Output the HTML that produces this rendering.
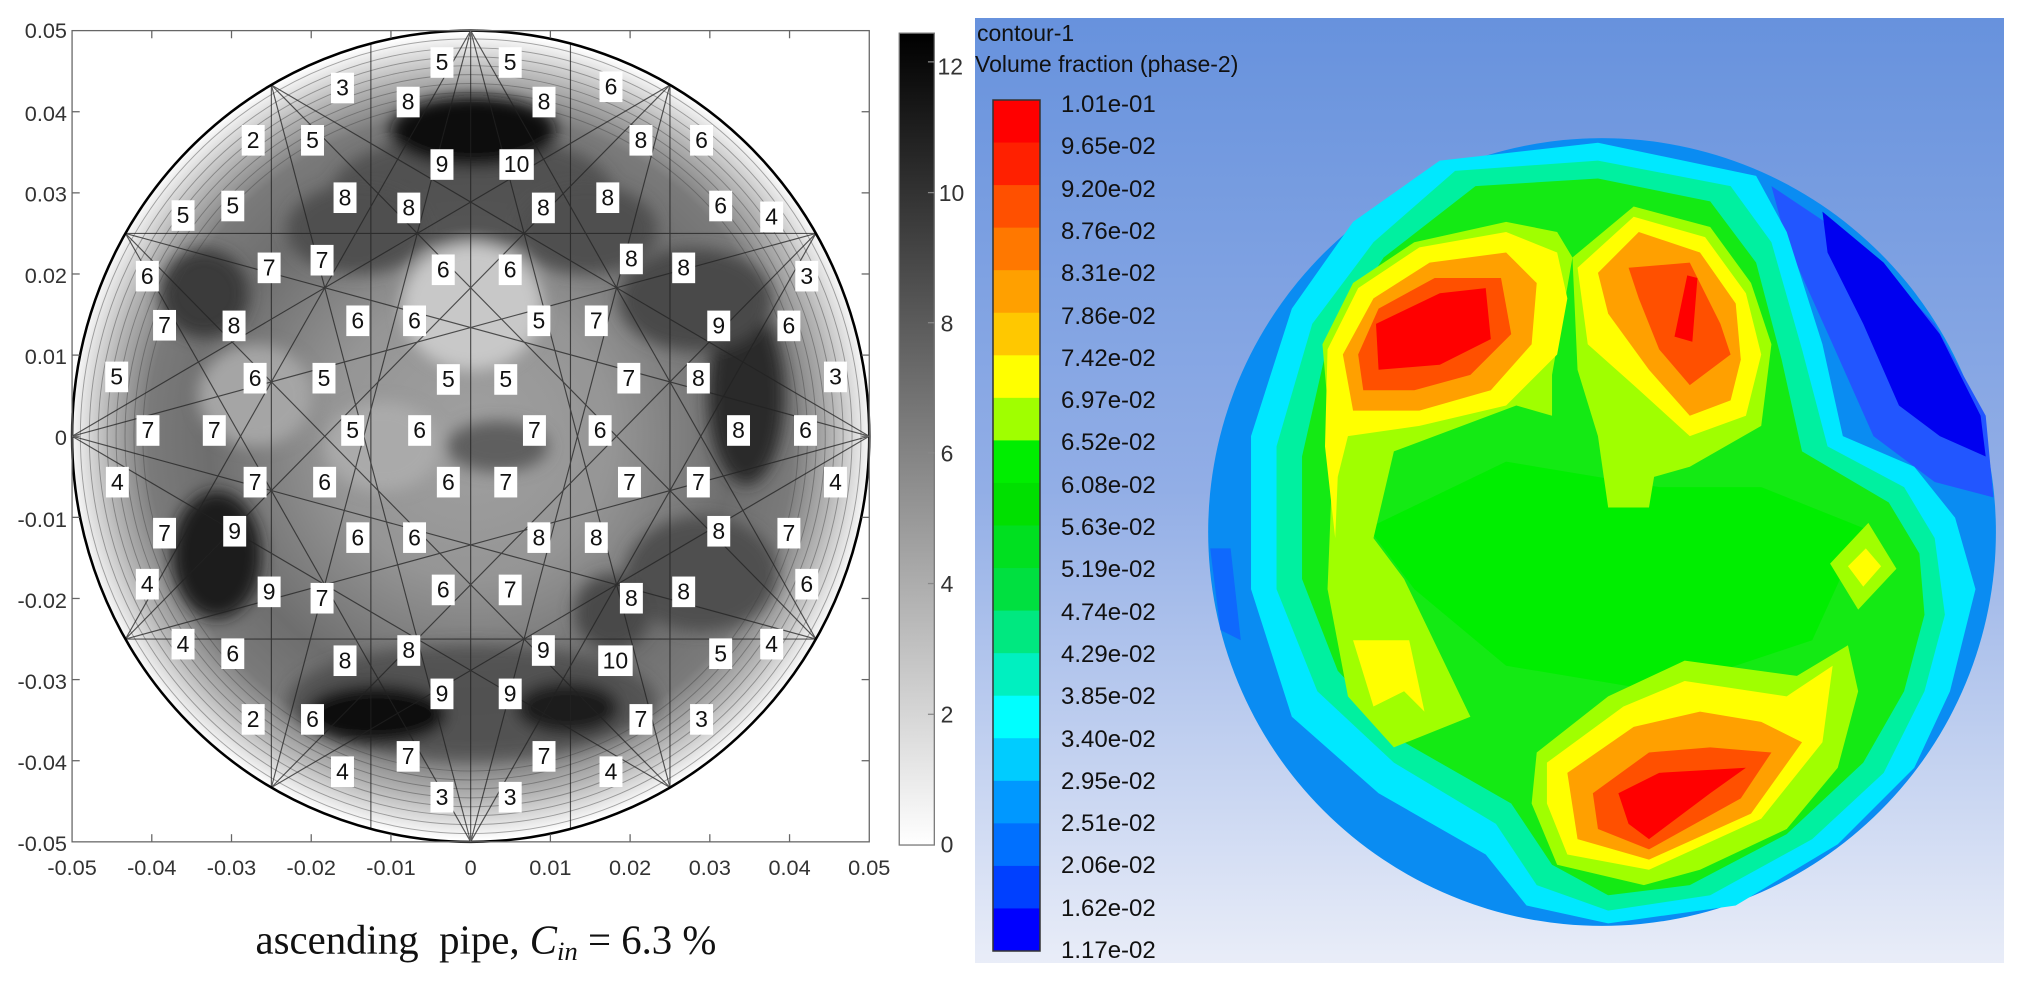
<!DOCTYPE html>
<html><head><meta charset="utf-8">
<style>
html,body{margin:0;padding:0;background:#fff;}
svg{display:block;}
text{font-family:"Liberation Sans",Arial,sans-serif;}
</style></head>
<body>
<svg id="s" width="2030" height="993" viewBox="0 0 2030 993" xmlns="http://www.w3.org/2000/svg">
<defs>
  <radialGradient id="rg" cx="738" cy="684" r="632" gradientUnits="userSpaceOnUse">
    <stop offset="0" stop-color="#a0a0a0"/>
    <stop offset="0.35" stop-color="#959595"/>
    <stop offset="0.65" stop-color="#6e6e6e"/>
    <stop offset="0.8" stop-color="#7a7a7a"/>
    <stop offset="0.9" stop-color="#b5b5b5"/>
    <stop offset="0.97" stop-color="#e8e8e8"/>
    <stop offset="1" stop-color="#ffffff"/>
  </radialGradient>
  <clipPath id="cl"><ellipse cx="738" cy="684" rx="625" ry="636"/></clipPath>
  <filter id="bl" x="-50%" y="-50%" width="200%" height="200%"><feGaussianBlur stdDeviation="12"/></filter>
  <linearGradient id="cb" x1="0" y1="0" x2="0" y2="1">
    <stop offset="0" stop-color="#000"/>
    <stop offset="1" stop-color="#fff"/>
  </linearGradient>
  <linearGradient id="bg" x1="0" y1="0" x2="0" y2="1">
    <stop offset="0" stop-color="#6792dd"/>
    <stop offset="0.5" stop-color="#92aee6"/>
    <stop offset="1" stop-color="#e9edf8"/>
  </linearGradient>
</defs>

<g transform="scale(0.63776)">
  <rect x="113" y="48" width="1250" height="1272" fill="#fff"/>
  <g clip-path="url(#cl)">
    <rect x="100" y="40" width="1280" height="1290" fill="url(#rg)"/>
    <g filter="url(#bl)">
      <ellipse cx="740" cy="300" rx="220" ry="90" fill="#4a4a4a" opacity="0.8"/>
      <ellipse cx="742" cy="205" rx="130" ry="55" fill="#0d0d0d"/>
      <ellipse cx="740" cy="1100" rx="290" ry="90" fill="#4a4a4a" opacity="0.8"/>
      <ellipse cx="590" cy="1120" rx="110" ry="45" fill="#111"/>
      <ellipse cx="890" cy="1110" rx="80" ry="40" fill="#1c1c1c"/>
      <ellipse cx="340" cy="870" rx="70" ry="100" fill="#1e1e1e"/>
      <ellipse cx="320" cy="460" rx="70" ry="70" fill="#3a3a3a"/>
      <ellipse cx="1170" cy="620" rx="60" ry="140" fill="#2c2c2c"/>
      <ellipse cx="1090" cy="470" rx="120" ry="80" fill="#484848"/>
      <ellipse cx="1100" cy="900" rx="120" ry="90" fill="#505050"/>
      <ellipse cx="560" cy="360" rx="110" ry="70" fill="#505050"/>
      <ellipse cx="920" cy="360" rx="110" ry="70" fill="#505050"/>
      <ellipse cx="740" cy="480" rx="110" ry="100" fill="#c8c8c8"/>
      <ellipse cx="600" cy="700" rx="90" ry="70" fill="#aaa"/>
      <ellipse cx="780" cy="700" rx="80" ry="40" fill="#5e5e5e"/>
      <ellipse cx="400" cy="620" rx="90" ry="80" fill="#a5a5a5"/>
      <ellipse cx="960" cy="960" rx="60" ry="60" fill="#4a4a4a"/>
    </g>
    <g fill="none" stroke="#444" stroke-width="1.5" opacity="0.45">
      <ellipse cx="738" cy="684" rx="612" ry="623"/><ellipse cx="738" cy="684" rx="598" ry="609"/>
      <ellipse cx="738" cy="684" rx="584" ry="595"/><ellipse cx="738" cy="684" rx="570" ry="581"/>
      <ellipse cx="738" cy="684" rx="556" ry="567"/><ellipse cx="738" cy="684" rx="542" ry="553"/>
      <ellipse cx="738" cy="684" rx="528" ry="539"/><ellipse cx="738" cy="684" rx="514" ry="525"/>
    </g>
    <g id="mesh" stroke="#222" stroke-width="1.8" opacity="0.75"></g>
  </g>
  <ellipse cx="738" cy="684" rx="625" ry="636" fill="none" stroke="#000" stroke-width="4"/>
  <rect x="113" y="48" width="1250" height="1272" fill="none" stroke="#666" stroke-width="2"/>
  <g id="ticks" stroke="#666" stroke-width="2"></g>
  <g font-size="34" fill="#333" text-anchor="end">
    <text x="105" y="60">0.05</text><text x="105" y="190">0.04</text><text x="105" y="316">0.03</text>
    <text x="105" y="444">0.02</text><text x="105" y="571">0.01</text><text x="105" y="698">0</text>
    <text x="105" y="826">-0.01</text><text x="105" y="953">-0.02</text><text x="105" y="1080">-0.03</text>
    <text x="105" y="1207">-0.04</text><text x="105" y="1334">-0.05</text>
  </g>
  <g font-size="34" fill="#333" text-anchor="middle">
    <text x="113" y="1372">-0.05</text><text x="238" y="1372">-0.04</text><text x="363" y="1372">-0.03</text>
    <text x="488" y="1372">-0.02</text><text x="613" y="1372">-0.01</text><text x="738" y="1372">0</text>
    <text x="863" y="1372">0.01</text><text x="988" y="1372">0.02</text><text x="1113" y="1372">0.03</text>
    <text x="1238" y="1372">0.04</text><text x="1363" y="1372">0.05</text>
  </g>
  <rect x="1410" y="52" width="55" height="1273" fill="url(#cb)" stroke="#777" stroke-width="2"/>
  <g stroke="#888" stroke-width="2">
    <line x1="1455" y1="97" x2="1465" y2="97"/><line x1="1455" y1="302" x2="1465" y2="302"/>
    <line x1="1455" y1="506" x2="1465" y2="506"/><line x1="1455" y1="710" x2="1465" y2="710"/>
    <line x1="1455" y1="915" x2="1465" y2="915"/><line x1="1455" y1="1120" x2="1465" y2="1120"/>
  </g>
  <g font-size="36" fill="#333">
    <text x="1470" y="117">12</text><text x="1472" y="315">10</text><text x="1475" y="520">8</text>
    <text x="1475" y="724">6</text><text x="1475" y="928">4</text><text x="1475" y="1133">2</text>
    <text x="1475" y="1337">0</text>
  </g>
  <text x="762" y="1495" font-size="64" text-anchor="middle" fill="#111" style="font-family:'Liberation Serif',serif">ascending&#160; pipe, <tspan font-style="italic">C</tspan><tspan font-style="italic" font-size="42" dy="10">in</tspan><tspan dy="-10"> = 6.3 %</tspan></text>
  <g id="nums" font-size="36" text-anchor="middle" fill="#111">
    <text x="693" y="110">5</text><text x="800" y="110">5</text>
    <text x="537" y="150">3</text><text x="640" y="172">8</text><text x="853" y="172">8</text><text x="958" y="148">6</text>
    <text x="397" y="232">2</text><text x="490" y="232">5</text><text x="693" y="270">9</text><text x="810" y="270">10</text><text x="1005" y="232">8</text><text x="1100" y="232">6</text>
    <text x="287" y="350">5</text><text x="365" y="335">5</text><text x="541" y="322">8</text><text x="641" y="338">8</text><text x="852" y="338">8</text><text x="953" y="322">8</text><text x="1130" y="335">6</text><text x="1210" y="352">4</text>
    <text x="231" y="445">6</text><text x="422" y="432">7</text><text x="505" y="420">7</text><text x="695" y="435">6</text><text x="800" y="435">6</text><text x="990" y="418">8</text><text x="1072" y="432">8</text><text x="1265" y="445">3</text>
    <text x="258" y="522">7</text><text x="367" y="523">8</text><text x="561" y="515">6</text><text x="650" y="515">6</text><text x="845" y="515">5</text><text x="935" y="515">7</text><text x="1127" y="523">9</text><text x="1237" y="523">6</text>
    <text x="183" y="603">5</text><text x="400" y="605">6</text><text x="508" y="605">5</text><text x="703" y="607">5</text><text x="793" y="607">5</text><text x="986" y="605">7</text><text x="1095" y="605">8</text><text x="1310" y="603">3</text>
    <text x="232" y="687">7</text><text x="336" y="687">7</text><text x="553" y="687">5</text><text x="658" y="687">6</text><text x="838" y="687">7</text><text x="941" y="687">6</text><text x="1158" y="687">8</text><text x="1263" y="687">6</text>
    <text x="184" y="768">4</text><text x="400" y="768">7</text><text x="509" y="768">6</text><text x="703" y="768">6</text><text x="793" y="768">7</text><text x="987" y="768">7</text><text x="1095" y="768">7</text><text x="1310" y="768">4</text>
    <text x="258" y="848">7</text><text x="368" y="845">9</text><text x="561" y="855">6</text><text x="650" y="855">6</text><text x="845" y="855">8</text><text x="935" y="855">8</text><text x="1127" y="845">8</text><text x="1237" y="848">7</text>
    <text x="231" y="928">4</text><text x="422" y="940">9</text><text x="505" y="950">7</text><text x="695" y="937">6</text><text x="800" y="937">7</text><text x="990" y="950">8</text><text x="1072" y="940">8</text><text x="1265" y="928">6</text>
    <text x="287" y="1022">4</text><text x="365" y="1037">6</text><text x="541" y="1048">8</text><text x="641" y="1032">8</text><text x="852" y="1032">9</text><text x="965" y="1048">10</text><text x="1130" y="1037">5</text><text x="1210" y="1022">4</text>
    <text x="397" y="1140">2</text><text x="490" y="1140">6</text><text x="693" y="1100">9</text><text x="800" y="1100">9</text><text x="1005" y="1140">7</text><text x="1100" y="1140">3</text>
    <text x="537" y="1222">4</text><text x="640" y="1198">7</text><text x="853" y="1198">7</text><text x="958" y="1222">4</text>
    <text x="693" y="1262">3</text><text x="800" y="1262">3</text>
  </g>
</g>

<rect x="975" y="18" width="1029" height="945" fill="url(#bg)"/>
<g transform="translate(1200,130) scale(0.5102)">
  <ellipse cx="788" cy="788" rx="772" ry="772" fill="#0a8cf2"/>
  <polygon fill="#2256ff" points="1120,110 1300,230 1440,380 1540,560 1555,720 1440,690 1320,600 1240,420 1150,220"/>
  <polygon fill="#0000f0" points="1220,160 1340,260 1450,400 1530,560 1540,640 1450,600 1370,540 1300,380 1230,240"/>
  <polygon fill="#1060ff" opacity="0.8" points="20,820 60,820 80,1000 40,980"/>
  <polygon fill="#00e8ff" points="470,60 780,25 1090,90 1150,200 1220,420 1260,600 1400,660 1480,760 1520,900 1470,1100 1400,1250 1250,1400 1050,1520 800,1555 640,1520 560,1420 350,1300 180,1150 100,900 100,600 180,350 300,180"/>
  <polygon fill="#00f0a0" points="500,80 780,60 1040,110 1120,220 1180,430 1230,620 1380,700 1440,800 1460,950 1420,1100 1340,1260 1200,1390 1000,1500 800,1530 660,1480 580,1360 380,1240 230,1100 150,900 150,620 220,380 340,220"/>
  <polygon fill="#14ea14" points="540,110 780,95 1000,140 1090,260 1140,450 1180,630 1350,730 1410,830 1420,950 1380,1100 1300,1240 1150,1380 960,1480 800,1500 690,1440 610,1320 400,1200 270,1060 200,880 200,640 250,420 360,250"/>
  <polygon fill="#00ee00" points="330,780 600,650 900,700 1100,700 1300,780 1200,1000 900,1100 600,1050 420,900"/>
  <polygon fill="#a0ff00" points="240,420 300,300 420,220 600,180 700,200 730,250 690,480 690,560 620,540 380,630 340,800 400,880 530,1150 380,1210 290,1110 250,900 260,650"/>
  <polygon fill="#a0ff00" points="730,250 850,150 1000,190 1080,300 1120,420 1100,580 960,660 890,680 880,740 800,740 780,600 740,470"/>
  <polygon fill="#ffff00" points="250,430 310,310 430,230 600,200 700,240 720,330 700,440 600,540 430,580 290,600 270,680 265,800 245,620"/>
  <polygon fill="#ffa000" points="280,440 340,330 450,260 600,240 660,300 650,420 570,510 430,550 300,550"/>
  <polygon fill="#ff5000" points="310,440 350,350 460,290 590,290 610,400 530,480 420,510 320,510"/>
  <polygon fill="#ff0000" points="345,380 470,320 560,310 570,410 470,460 350,470"/>
  <polygon fill="#ffff00" points="740,270 850,170 990,210 1070,320 1100,440 1070,560 960,600 850,500 760,420"/>
  <polygon fill="#ffa000" points="780,280 860,200 980,240 1050,340 1060,450 1040,530 960,560 880,470 800,360"/>
  <polygon fill="#ff5000" points="840,270 960,260 1020,380 1040,440 960,500 900,430 860,330"/>
  <polygon fill="#ff0000" points="955,285 975,290 965,415 930,405"/>
  <polygon fill="#a0ff00" points="660,1220 800,1110 950,1040 1170,1070 1270,1010 1290,1100 1250,1250 1150,1370 980,1450 870,1480 700,1440 650,1320"/>
  <polygon fill="#ffff00" points="680,1240 830,1130 950,1080 1150,1110 1240,1050 1220,1200 1100,1350 880,1450 720,1420 680,1320"/>
  <polygon fill="#ffa000" points="720,1260 850,1170 980,1140 1100,1160 1180,1200 1080,1340 880,1430 740,1390"/>
  <polygon fill="#ff5000" points="770,1300 880,1220 1000,1210 1120,1220 1060,1310 880,1410 780,1370"/>
  <polygon fill="#ff0000" points="820,1300 900,1260 1070,1250 1000,1300 880,1390 840,1360"/>
  <polygon fill="#ffff00" points="300,1000 410,1000 440,1140 400,1100 340,1130"/>
  <polygon fill="#a0ff00" points="1310,770 1365,860 1290,940 1235,850"/>
  <polygon fill="#ffff00" points="1305,820 1335,855 1300,895 1270,855"/>
</g>
<g id="rcb"></g>
<rect x="993" y="100" width="47" height="851" fill="none" stroke="#333" stroke-width="1.5"/>
<g font-size="23" fill="#111">
  <text x="977" y="41">contour-1</text>
  <text x="975" y="72">Volume fraction (phase-2)</text>
</g>
<g font-size="24" fill="#111">
  <text x="1061" y="112">1.01e-01</text><text x="1061" y="154">9.65e-02</text><text x="1061" y="197">9.20e-02</text>
  <text x="1061" y="239">8.76e-02</text><text x="1061" y="281">8.31e-02</text><text x="1061" y="324">7.86e-02</text>
  <text x="1061" y="366">7.42e-02</text><text x="1061" y="408">6.97e-02</text><text x="1061" y="450">6.52e-02</text>
  <text x="1061" y="493">6.08e-02</text><text x="1061" y="535">5.63e-02</text><text x="1061" y="577">5.19e-02</text>
  <text x="1061" y="620">4.74e-02</text><text x="1061" y="662">4.29e-02</text><text x="1061" y="704">3.85e-02</text>
  <text x="1061" y="747">3.40e-02</text><text x="1061" y="789">2.95e-02</text><text x="1061" y="831">2.51e-02</text>
  <text x="1061" y="873">2.06e-02</text><text x="1061" y="916">1.62e-02</text><text x="1061" y="958">1.17e-02</text>
</g>
</svg>
<script>
(function(){
var NS="http://www.w3.org/2000/svg";
var mesh=document.getElementById('mesh');
var cx=738,cy=684,rx=625,ry=636;
function P(a){a=a*Math.PI/180;return [cx+rx*Math.cos(a),cy-ry*Math.sin(a)];}
function L(g,a,b){var l=document.createElementNS(NS,'line');l.setAttribute('x1',a[0]);l.setAttribute('y1',a[1]);l.setAttribute('x2',b[0]);l.setAttribute('y2',b[1]);g.appendChild(l);}
for(var k=0;k<12;k++){var a=k*30;L(mesh,P(a),P(a+150));L(mesh,P(a),P(a+120));}
L(mesh,P(90),P(270));L(mesh,P(104.5),P(255.5));L(mesh,P(75.5),P(284.5));
var t=document.getElementById('ticks');
for(var i=1;i<10;i++){var x=113+125*i,y=48+127.2*i;
L(t,[x,1320],[x,1308]);L(t,[x,48],[x,60]);L(t,[113,y],[125,y]);L(t,[1363,y],[1351,y]);}
var nums=document.getElementById('nums');var ts=nums.querySelectorAll('text');
for(var j=0;j<ts.length;j++){var w=ts[j].textContent.length>1?54:36;var r=document.createElementNS(NS,'rect');
var x=+ts[j].getAttribute('x'),y=+ts[j].getAttribute('y');
r.setAttribute('x',x-w/2);r.setAttribute('y',y-36);r.setAttribute('width',w);r.setAttribute('height',48);r.setAttribute('fill','#fff');
nums.insertBefore(r,nums.firstChild);}
var cols=['#ff0000','#ff2000','#ff5000','#ff7800','#ffa000','#ffc800','#ffff00','#a0ff00','#00ee00','#00e000','#00e020','#00e040','#00e880','#00f0c0','#00ffff','#00ccff','#0098ff','#0070ff','#0040ff','#0000ff'];
var g=document.getElementById('rcb');var h=851/20;
for(var c=0;c<20;c++){var r2=document.createElementNS(NS,'rect');r2.setAttribute('x',993);r2.setAttribute('y',100+c*h);r2.setAttribute('width',47);r2.setAttribute('height',h+0.5);
r2.setAttribute('fill',cols[c]);g.appendChild(r2);}
})();
</script>
</body></html>
